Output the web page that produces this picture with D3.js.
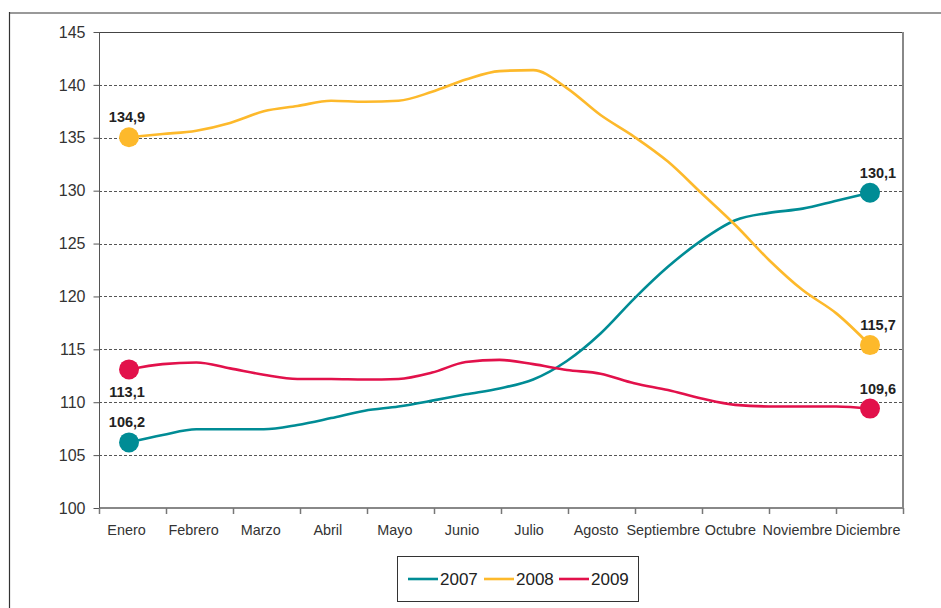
<!DOCTYPE html>
<html>
<head>
<meta charset="utf-8">
<script src="https://cdn.jsdelivr.net/npm/d3@7"></script>
<style>
  body { margin: 0; background: #fff; }
  svg { display: block; font-family: "Liberation Sans", Arial, sans-serif; }
</style>
</head>
<body>
<svg id="chart" width="941" height="608"></svg>
<script>
// months on the axis, values are read every half month (23 points)
var months = ["Enero", "Febrero", "Marzo", "Abril", "Mayo", "Junio", "Julio",
  "Agosto", "Septiembre", "Octubre", "Noviembre", "Diciembre"];
var yTicks = [100, 105, 110, 115, 120, 125, 130, 135, 140, 145];

var val2007 = [106.2, 106.9, 107.45, 107.45, 107.45, 107.85, 108.5, 109.2, 109.6, 110.15, 110.75, 111.3,
  112.15, 113.9, 116.5, 119.8, 122.8, 125.3, 127.2, 127.9, 128.3, 129.05, 129.8];
var val2008 = [135.05, 135.35, 135.67, 136.4, 137.5, 138.0, 138.5, 138.4, 138.5, 139.35, 140.5, 141.3,
  141.4, 139.7, 137.15, 135.1, 132.75, 129.75, 126.75, 123.45, 120.6, 118.4, 115.4];
var val2009 = [113.1, 113.6, 113.75, 113.2, 112.6, 112.2, 112.2, 112.15, 112.2, 112.8, 113.8, 114.0,
  113.6, 113.05, 112.7, 111.8, 111.15, 110.35, 109.75, 109.6, 109.6, 109.6, 109.4];

var seriesNames = ["2007", "2008", "2009"];
var seriesColors = ["#008c95", "#fdb92b", "#e2114b"];

// end point labels: series, point index, text, place
var endLabels = [
  ["2008", 0, "134,9", "above"],
  ["2009", 0, "113,1", "below"],
  ["2007", 0, "106,2", "above"],
  ["2007", 22, "130,1", "above"],
  ["2008", 22, "115,7", "above"],
  ["2009", 22, "109,6", "above"]
];

var series = [val2007, val2008, val2009].map(function(v, i){
  return { name: seriesNames[i], color: seriesColors[i], values: v };
});

var svg = d3.select("#chart");

var pLeft = 99, pRight = 903, pTop = 32, pBottom = 508;

var idx = d3.range(val2007.length);
var x = d3.scalePoint().domain(idx).range([129, 870]);
var xMonth = d3.scalePoint().domain(months).range([126, 864]);
var xBand = d3.scaleBand().domain(months).range([pLeft, pRight]);
var y = d3.scaleLinear().domain([100, 145]).range([pBottom, pTop]);

// outer frame
svg.append("line").attr("x1", 9).attr("x2", 941).attr("y1", 13).attr("y2", 13)
  .attr("stroke", "#999").attr("stroke-width", 2);
svg.append("line").attr("x1", 9.5).attr("x2", 9.5).attr("y1", 12).attr("y2", 608)
  .attr("stroke", "#333").attr("stroke-width", 1.2);

// grid
svg.append("g").selectAll("line")
  .data(yTicks.filter(function(t){ return t > 100 && t < 145; }))
  .enter().append("line")
    .attr("x1", pLeft).attr("x2", pRight)
    .attr("y1", function(d){ return Math.round(y(d)) + 0.5; })
    .attr("y2", function(d){ return Math.round(y(d)) + 0.5; })
    .attr("stroke", "#555")
    .attr("stroke-dasharray", "3,2");

// plot box
svg.append("line").attr("x1", pLeft).attr("x2", pRight).attr("y1", pTop + 0.5).attr("y2", pTop + 0.5)
  .attr("stroke", "#444");
svg.append("line").attr("x1", pRight).attr("x2", pRight).attr("y1", pTop).attr("y2", pBottom)
  .attr("stroke", "#888").attr("stroke-width", 2);
svg.append("line").attr("x1", pLeft).attr("x2", pRight + 1).attr("y1", pBottom).attr("y2", pBottom)
  .attr("stroke", "#888").attr("stroke-width", 2);
svg.append("line").attr("x1", pLeft + 0.5).attr("x2", pLeft + 0.5).attr("y1", pTop).attr("y2", pBottom)
  .attr("stroke", "#555");

// y axis
var yAxis = svg.append("g")
  .attr("transform", "translate(" + (pLeft + 0.5) + ",0)")
  .call(d3.axisLeft(y).tickValues(yTicks).tickSize(6).tickPadding(8));
yAxis.select(".domain").remove();
yAxis.selectAll("line").attr("stroke", "#555");
yAxis.selectAll("text").attr("font-size", 16).attr("fill", "#333")
  .attr("font-family", "Liberation Sans, Arial, sans-serif");

// x axis ticks at month boundaries
svg.append("g").selectAll("line")
  .data(months.map(function(m){ return xBand(m); }).concat([pRight]))
  .enter().append("line")
    .attr("x1", function(d){ return Math.round(d) + 0.5; })
    .attr("x2", function(d){ return Math.round(d) + 0.5; })
    .attr("y1", pBottom).attr("y2", pBottom + 6)
    .attr("stroke", "#777").attr("stroke-width", 1.5);

var xAxis = svg.append("g")
  .attr("transform", "translate(0," + pBottom + ")")
  .call(d3.axisBottom(xMonth).tickSize(0).tickPadding(17));
xAxis.select(".domain").remove();
xAxis.selectAll("text").attr("font-size", 14.4).attr("fill", "#333")
  .attr("font-family", "Liberation Sans, Arial, sans-serif");
// last label sits a bit further right in the original
xAxis.selectAll(".tick").filter(function(d){ return d === "Diciembre"; })
  .attr("transform", "translate(868,0)");

// lines
var line = d3.line()
  .x(function(d, i){ return x(i); })
  .y(function(d){ return y(d); })
  .curve(d3.curveMonotoneX);

svg.append("g").selectAll("path")
  .data(series)
  .enter().append("path")
    .attr("d", function(d){ return line(d.values); })
    .attr("fill", "none")
    .attr("stroke", function(d){ return d.color; })
    .attr("stroke-width", 2.6);

// end dots
var dots = [];
series.forEach(function(s){
  dots.push({ color: s.color, i: 0, v: s.values[0] });
  dots.push({ color: s.color, i: s.values.length - 1, v: s.values[s.values.length - 1] });
});
svg.append("g").selectAll("circle")
  .data(dots)
  .enter().append("circle")
    .attr("cx", function(d){ return x(d.i); })
    .attr("cy", function(d){ return y(d.v); })
    .attr("r", 10)
    .attr("fill", function(d){ return d.color; });

// value labels
svg.append("g").selectAll("text")
  .data(endLabels)
  .enter().append("text")
    .attr("x", function(d){ return x(d[1]) + (d[1] === 0 ? -2 : 8); })
    .attr("y", function(d){
      var s = series[seriesNames.indexOf(d[0])];
      return y(s.values[d[1]]) + (d[3] === "above" ? -15 : 28);
    })
    .attr("text-anchor", "middle")
    .attr("font-size", 14.5)
    .attr("font-weight", "bold")
    .attr("fill", "#222")
    .text(function(d){ return d[2]; });

// legend
var legend = svg.append("g");
legend.append("rect")
  .attr("x", 397.5).attr("y", 556.5).attr("width", 241).attr("height", 45)
  .attr("fill", "#fff").attr("stroke", "#333");
var legX = [408, 484, 559];
series.forEach(function(s, i){
  legend.append("line")
    .attr("x1", legX[i]).attr("x2", legX[i] + 30)
    .attr("y1", 579).attr("y2", 579)
    .attr("stroke", s.color).attr("stroke-width", 2.6);
  legend.append("text")
    .attr("x", legX[i] + 32).attr("y", 585)
    .attr("font-size", 17).attr("fill", "#222")
    .text(s.name);
});
</script>
</body>
</html>
